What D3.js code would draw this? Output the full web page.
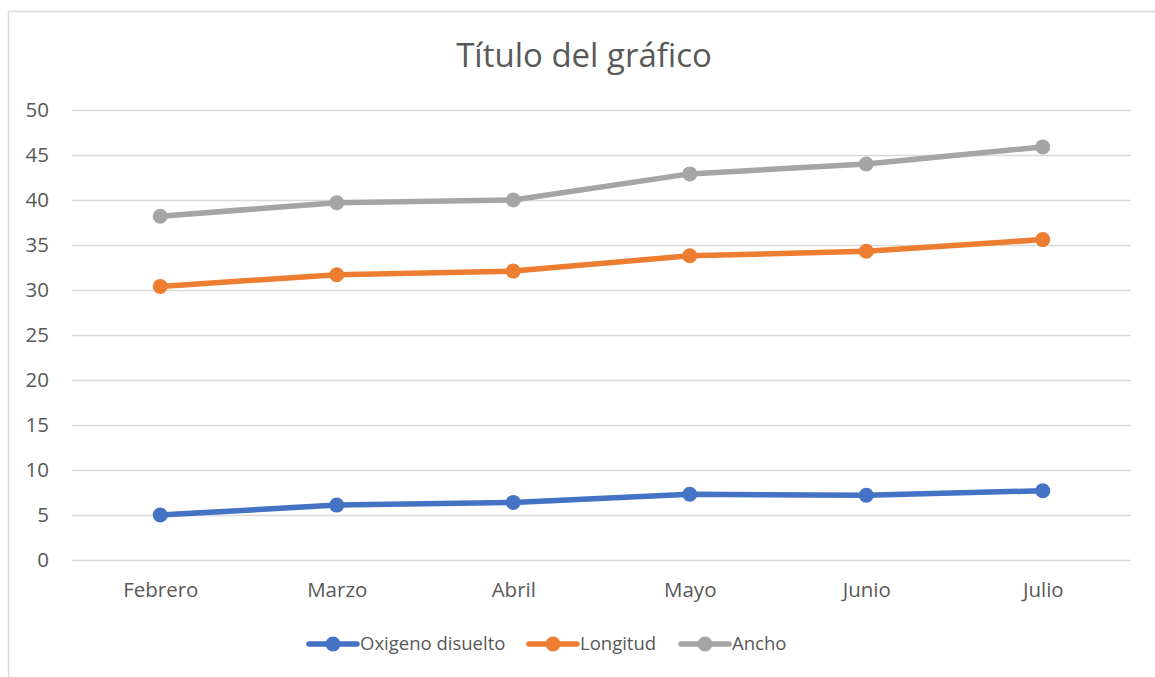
<!DOCTYPE html>
<html>
<head>
<meta charset="utf-8">
<script src="https://cdnjs.cloudflare.com/ajax/libs/d3/7.8.5/d3.min.js"></script>
<style>
  body { margin: 0; background: #fff; }
  svg text { font-family: "Open Sans", "Noto Sans", sans-serif; fill: #595959; }
</style>
</head>
<body>
<div id="chart"></div>
<script>
var months = ["Febrero", "Marzo", "Abril", "Mayo", "Junio", "Julio"];
var oxigeno = [5.0, 6.1, 6.4, 7.3, 7.2, 7.7];
var longitud = [30.4, 31.7, 32.1, 33.8, 34.3, 35.6];
var ancho = [38.2, 39.7, 40.0, 42.9, 44.0, 45.9];
var yTicks = [0, 5, 10, 15, 20, 25, 30, 35, 40, 45, 50];

var series = [
  { name: "Oxigeno disuelto", values: oxigeno, color: "#4472c4" },
  { name: "Longitud", values: longitud, color: "#ed7d31" },
  { name: "Ancho", values: ancho, color: "#a5a5a5" }
];

var w = 1155, h = 677;
var marg = { top: 110, right: 24, bottom: 117, left: 72 };

var svg = d3.select("#chart").append("svg")
  .attr("width", w).attr("height", h);

// chart frame
svg.append("path")
  .attr("d", "M8.5," + h + "V11.5H" + w)
  .attr("fill", "none")
  .attr("stroke", "#d9d9d9")
  .attr("stroke-width", 1.5);

var x = d3.scalePoint()
  .domain(months)
  .range([marg.left, w - marg.right])
  .padding(0.5);

var y = d3.scaleLinear()
  .domain([0, 50])
  .range([h - marg.bottom, marg.top]);

// gridlines + y labels
var yAxis = d3.axisLeft(y)
  .tickValues(yTicks)
  .tickSize(-(w - marg.right - marg.left))
  .tickPadding(23);

svg.append("g")
  .attr("transform", "translate(" + marg.left + ",0)")
  .call(yAxis)
  .call(function(g) {
    g.select(".domain").remove();
    g.selectAll(".tick line").attr("stroke", "#d9d9d9").attr("stroke-width", 1.5);
    g.selectAll(".tick text").attr("font-size", 20.5).style("font-family", null);
  });

// x labels
var xAxis = d3.axisBottom(x).tickSize(0).tickPadding(22);
svg.append("g")
  .attr("transform", "translate(0," + (h - marg.bottom) + ")")
  .call(xAxis)
  .call(function(g) {
    g.select(".domain").remove();
    g.selectAll(".tick text").attr("font-size", 20.5).style("font-family", null);
  });

var line = d3.line()
  .x(function(d, i) { return x(months[i]); })
  .y(function(d) { return y(d); });

series.forEach(function(s) {
  svg.append("path")
    .datum(s.values)
    .attr("d", line)
    .attr("fill", "none")
    .attr("stroke", s.color)
    .attr("stroke-width", 5.5)
    .attr("stroke-linejoin", "round")
    .attr("stroke-linecap", "round");

  svg.append("g").selectAll("circle")
    .data(s.values)
    .join("circle")
    .attr("cx", function(d, i) { return x(months[i]); })
    .attr("cy", function(d) { return y(d); })
    .attr("r", 7.5)
    .attr("fill", s.color);
});

// title
svg.append("text")
  .attr("x", 584)
  .attr("y", 67)
  .attr("text-anchor", "middle")
  .attr("font-size", 33)
  .text("Título del gráfico");

// legend
var legendX = [309, 529, 681];
var legend = svg.append("g");
series.forEach(function(s, i) {
  var g = legend.append("g").attr("transform", "translate(" + legendX[i] + ",644)");
  g.append("line")
    .attr("x1", 0).attr("x2", 48)
    .attr("stroke", s.color).attr("stroke-width", 5.5)
    .attr("stroke-linecap", "round");
  g.append("circle").attr("cx", 24).attr("r", 7.5).attr("fill", s.color);
  g.append("text")
    .attr("x", 51).attr("dy", "0.35em")
    .attr("font-size", 18.5)
    .text(s.name);
});
</script>
</body>
</html>
